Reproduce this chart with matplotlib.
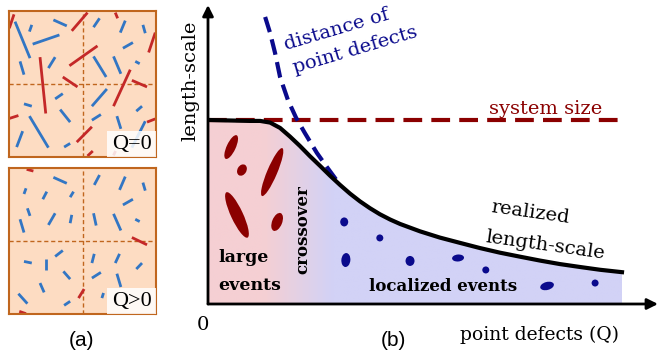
import numpy as np
import matplotlib.pyplot as plt
from matplotlib.collections import LineCollection, EllipseCollection
from matplotlib.colors import LinearSegmentedColormap
from matplotlib.patches import Polygon, Rectangle

W, H = 660, 360

# ---- panel (a): rods inside the two boxes, (x, y) as box fractions, y downwards
rods_q0_blue = [
    [(0.041, 0.073), (0.143, 0.323)], [(0.139, 0.141), (0.155, 0.095)],
    [(0.302, 0.061), (0.393, 0.102)], [(0.161, 0.227), (0.343, 0.164)],
    [(0.075, 0.345), (0.102, 0.436)], [(0.268, 0.391), (0.314, 0.316)],
    [(0.575, 0.111), (0.616, 0.050)], [(0.757, 0.148), (0.791, 0.066)],
    [(0.911, 0.095), (0.927, 0.152)], [(0.775, 0.255), (0.843, 0.216)],
    [(0.575, 0.311), (0.661, 0.452)], [(0.711, 0.311), (0.761, 0.430)],
    [(0.859, 0.345), (0.889, 0.361)], [(0.314, 0.602), (0.366, 0.566)],
    [(0.102, 0.636), (0.155, 0.652)], [(0.348, 0.675), (0.416, 0.761)],
    [(0.139, 0.720), (0.268, 0.936)], [(0.052, 0.932), (0.093, 0.823)],
    [(0.375, 0.932), (0.416, 0.907)], [(0.564, 0.652), (0.666, 0.534)],
    [(0.564, 0.748), (0.625, 0.709)], [(0.734, 0.720), (0.761, 0.807)],
    [(0.866, 0.686), (0.905, 0.652)], [(0.836, 0.936), (0.927, 0.755)],
]
rods_q0_red = [
    [(0.002, 0.118), (0.034, 0.023)], [(0.427, 0.136), (0.534, 0.011)],
    [(0.723, 0.011), (0.739, 0.050)], [(0.950, 0.284), (0.995, 0.148)],
    [(0.411, 0.375), (0.602, 0.239)], [(0.211, 0.316), (0.250, 0.702)],
    [(0.366, 0.452), (0.466, 0.520)], [(0.711, 0.652), (0.825, 0.402)],
    [(0.836, 0.475), (0.939, 0.520)], [(0.002, 0.736), (0.064, 0.716)],
    [(0.461, 0.898), (0.564, 0.793)], [(0.534, 0.993), (0.570, 0.959)],
    [(0.939, 0.761), (0.995, 0.739)], [(0.711, 0.989), (0.725, 0.959)],
]
rods_q1_blue = [
    [(0.302, 0.064), (0.393, 0.105)], [(0.102, 0.178), (0.116, 0.139)],
    [(0.230, 0.214), (0.257, 0.162)], [(0.416, 0.200), (0.439, 0.162)],
    [(0.125, 0.276), (0.143, 0.328)], [(0.075, 0.351), (0.102, 0.442)],
    [(0.268, 0.390), (0.314, 0.310)], [(0.416, 0.378), (0.427, 0.321)],
    [(0.580, 0.116), (0.616, 0.048)], [(0.752, 0.150), (0.791, 0.059)],
    [(0.911, 0.100), (0.927, 0.155)], [(0.775, 0.253), (0.843, 0.214)],
    [(0.575, 0.310), (0.593, 0.394)], [(0.711, 0.314), (0.761, 0.428)],
    [(0.859, 0.351), (0.889, 0.367)], [(0.314, 0.606), (0.366, 0.565)],
    [(0.102, 0.640), (0.155, 0.651)], [(0.252, 0.622), (0.252, 0.702)],
    [(0.370, 0.708), (0.416, 0.761)], [(0.211, 0.788), (0.239, 0.852)],
    [(0.064, 0.861), (0.125, 0.929)], [(0.375, 0.941), (0.416, 0.913)],
    [(0.564, 0.651), (0.580, 0.588)], [(0.723, 0.651), (0.752, 0.588)],
    [(0.564, 0.754), (0.625, 0.715)], [(0.734, 0.724), (0.761, 0.815)],
    [(0.866, 0.692), (0.905, 0.651)], [(0.632, 0.891), (0.643, 0.856)],
]
rods_q1_red = [
    [(0.120, 0.009), (0.166, 0.021)], [(0.836, 0.476), (0.939, 0.526)],
    [(0.473, 0.891), (0.511, 0.829)], [(0.070, 0.982), (0.116, 0.998)],
]

# ---- panel (b): length-scale vs point defects Q
q_real = [0.0, 0.101, 0.126, 0.150, 0.174, 0.198, 0.222, 0.246, 0.271,
          0.295, 0.319, 0.343, 0.367, 0.391, 0.415, 0.440, 0.464, 0.512,
          0.560, 0.609, 0.657, 0.705, 0.754, 0.802, 0.850, 0.899, 0.947, 1.0]
l_real = [1.0, 0.995, 0.995, 0.986, 0.957, 0.910, 0.859, 0.804, 0.750,
          0.697, 0.647, 0.600, 0.558, 0.521, 0.488, 0.459, 0.435, 0.395,
          0.361, 0.332, 0.304, 0.279, 0.257, 0.236, 0.217, 0.201, 0.186, 0.173]
q_dist = [0.138, 0.150, 0.162, 0.174, 0.193, 0.213, 0.234, 0.263, 0.287, 0.319]
l_dist = [1.560, 1.473, 1.364, 1.234, 1.109, 1.011, 0.929, 0.821, 0.745, 0.647]
system_size = 1.0
q_max = 1.0

# events: centre (Q, L), long axis, short axis (pixels), angle (deg)
large_q = [0.056, 0.082, 0.155, 0.070, 0.167]
large_l = [0.853, 0.728, 0.717, 0.484, 0.446]
large_len = [26, 12, 52, 50, 19]
large_wid = [9, 9, 10, 12, 10]
large_ang = [65, 60, 67, 115, 68]

local_q = [0.329, 0.415, 0.333, 0.488, 0.604, 0.671, 0.819, 0.935]
local_l = [0.446, 0.359, 0.239, 0.234, 0.250, 0.185, 0.098, 0.114]
local_len = [9, 7, 14, 10, 12, 7, 14, 7]
local_wid = [8, 7, 9, 9, 7, 7, 8, 7]
local_ang = [90, 0, 85, 90, 5, 0, 15, 0]

ROD_BLUE = "#3276c4"
ROD_RED = "#c42828"
BOX_EDGE = "#c0661e"
BOX_FILL = "#fddcc2"
DARK_RED = "#8b0000"
NAVY = "#0a0a8c"
SERIF = "DejaVu Serif"


def fx(x):
    return x / W


def fy(y):
    return 1 - y / H


fig = plt.figure(figsize=(W / 100, H / 100), dpi=100)


def rod_box(rect, blue, red, label):
    ax = fig.add_axes(rect)
    ax.set_xlim(0, 1)
    ax.set_ylim(1, 0)
    ax.set_facecolor(BOX_FILL)
    ax.set_xticks([])
    ax.set_yticks([])
    for sp in ax.spines.values():
        sp.set_color(BOX_EDGE)
        sp.set_linewidth(1.5)
    ax.axvline(0.5, color=BOX_EDGE, lw=1, dashes=(3, 2))
    ax.axhline(0.5, color=BOX_EDGE, lw=1, dashes=(3, 2))
    ax.add_collection(LineCollection(blue, colors=ROD_BLUE, linewidths=2))
    ax.add_collection(LineCollection(red, colors=ROD_RED, linewidths=2))
    ax.add_patch(Rectangle((0.67, 0.82), 0.33, 0.18, facecolor="white",
                           edgecolor="none", alpha=0.85, zorder=5))
    ax.text(0.835, 0.915, label, ha="center", va="center", zorder=6,
            fontsize=16, family="Liberation Serif")
    return ax


rod_box([fx(9), fy(157), 147 / W, 146 / H], rods_q0_blue, rods_q0_red, "Q=0")
rod_box([fx(9), fy(314), 147 / W, 146 / H], rods_q1_blue, rods_q1_red, "Q>0")
fig.text(fx(82), fy(341), "(a)", ha="center", va="center",
         fontsize=15, family="Liberation Sans")

# main panel
ax = fig.add_axes([fx(208), fy(304), 450 / W, 299 / H])
xmax, ymax = 450 / 414, 299 / 184
ax.set_xlim(0, xmax)
ax.set_ylim(0, ymax)
ax.axis("off")

# gradient fill under the realized length-scale
region = Polygon(list(zip(q_real, l_real)) + [(q_max, 0), (0, 0)],
                 closed=True, facecolor="none", edgecolor="none")
ax.add_patch(region)
cmap = LinearSegmentedColormap.from_list(
    "events", [(0, "#f5cfd3"), (0.133, "#f5cfd3"), (0.30, "#d2d2f6"), (1, "#d2d2f6")])
grad = np.linspace(0, 1, 400).reshape(1, -1)
im = ax.imshow(grad, cmap=cmap, extent=[0, q_max, 0, system_size],
               aspect="auto", zorder=1, interpolation="bilinear")
im.set_clip_path(region)
ax.set_xlim(0, xmax)
ax.set_ylim(0, ymax)

ax.add_collection(EllipseCollection(
    large_len, large_wid, large_ang, units="dots",
    offsets=np.column_stack([large_q, large_l]), offset_transform=ax.transData,
    facecolors=DARK_RED, edgecolors="none", zorder=2))
ax.add_collection(EllipseCollection(
    local_len, local_wid, local_ang, units="dots",
    offsets=np.column_stack([local_q, local_l]), offset_transform=ax.transData,
    facecolors=NAVY, edgecolors="none", zorder=2))

ax.plot([0, q_max], [system_size, system_size], color=DARK_RED, lw=3,
        dashes=(4.5, 2.2), zorder=3)
ax.plot(q_dist, l_dist, color=NAVY, lw=3, dashes=(3.8, 1.8), zorder=3,
        dash_capstyle="butt")
ax.plot(q_real, l_real, color="black", lw=3, zorder=4,
        solid_joinstyle="round")

arrow = dict(arrowstyle="-|>", color="black", lw=2, mutation_scale=16,
             shrinkA=0, shrinkB=0)
ax.annotate("", xy=(1, 0), xytext=(0, 0), xycoords="axes fraction",
            arrowprops=arrow, zorder=5, annotation_clip=False)
ax.annotate("", xy=(0, 1), xytext=(0, 0), xycoords="axes fraction",
            arrowprops=arrow, zorder=5, annotation_clip=False)

# labels
fig.text(fx(190), fy(81), "length-scale", rotation=90, ha="center",
         va="center", fontsize=14, family=SERIF)
fig.text(fx(203), fy(325), "0", ha="center", va="center", fontsize=14,
         family=SERIF)
fig.text(fx(540), fy(335), "point defects (Q)", ha="center", va="center",
         fontsize=13.5, family=SERIF)
fig.text(fx(393), fy(341), "(b)", ha="center", va="center",
         fontsize=15, family="Liberation Sans")
fig.text(fx(546), fy(114), "system size", ha="center", va="baseline",
         fontsize=14, family=SERIF, color=DARK_RED)

# curve annotations, one line at a time (baseline-left anchors)
for txt, x, y, rot, color in [
    ("distance of", 286, 50, 16.5, NAVY),
    ("point defects", 295, 73, 16.5, NAVY),
    ("realized", 490, 212, -8, "black"),
    ("length-scale", 485, 242, -8, "black"),
]:
    fig.text(fx(x), fy(y), txt, ha="left", va="baseline", rotation=rot,
             rotation_mode="anchor", fontsize=14, family=SERIF, color=color)

fig.text(fx(218), fy(262), "large", ha="left", va="baseline",
         fontsize=12.5, family=SERIF, weight="bold")
fig.text(fx(218), fy(290), "events", ha="left", va="baseline",
         fontsize=12.5, family=SERIF, weight="bold")
fig.text(fx(303), fy(230), "crossover", rotation=90, ha="center",
         va="center", fontsize=12, family=SERIF, weight="bold")
fig.text(fx(443), fy(291), "localized events", ha="center", va="baseline",
         fontsize=12, family=SERIF, weight="bold")

fig.savefig("out.png", dpi=100)
